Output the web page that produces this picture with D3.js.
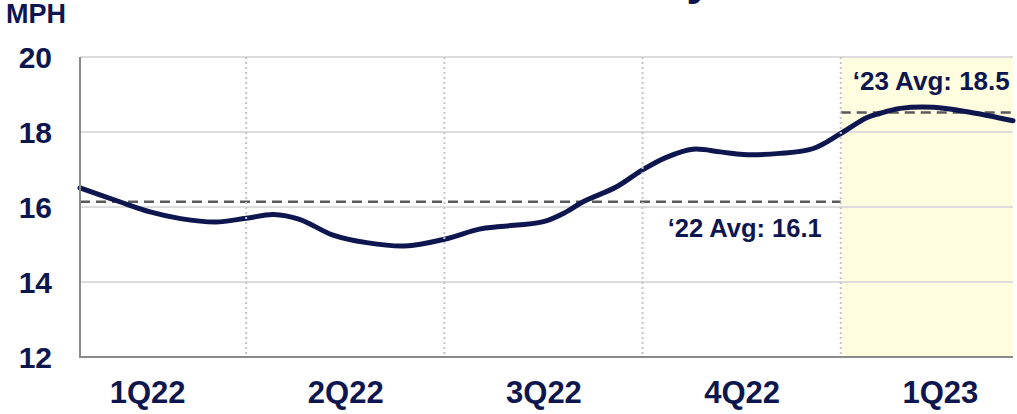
<!DOCTYPE html>
<html>
<head>
<meta charset="utf-8">
<script src="https://cdn.jsdelivr.net/npm/d3@7"></script>
<style>
  html, body { margin: 0; padding: 0; background: #ffffff; }
  svg { display: block; font-family: "Liberation Sans", Arial, sans-serif; font-weight: bold; }
</style>
</head>
<body>
<svg id="chart" width="1017" height="414"></svg>
<script>
// ---- data (weeks since start of 2022, MPH) ----
const weeks  = [2.1, 4.7, 6.7, 8.7, 11.0, 13.0, 14.8, 16.5, 18.7, 20.9, 23.4, 26.0, 28.3, 29.7, 32.5, 34.0, 35.1, 37.3, 39.0, 40.6, 42.3, 44.1, 45.6, 48.0, 50.2, 52.0, 53.7, 54.6, 55.9, 58.1, 60.3, 63.3];
const speeds = [16.51, 16.14, 15.87, 15.69, 15.60, 15.70, 15.80, 15.67, 15.25, 15.05, 14.96, 15.14, 15.41, 15.48, 15.61, 15.87, 16.14, 16.54, 16.99, 17.33, 17.54, 17.47, 17.40, 17.43, 17.56, 17.96, 18.38, 18.50, 18.63, 18.66, 18.54, 18.30];
const quarterLabels = ["1Q22", "2Q22", "3Q22", "4Q22", "1Q23"];
const quarterMids   = [6.5, 19.5, 32.5, 45.5, 58.5];
const quarterBounds = [13, 26, 39, 52];
const yTicks = [12, 14, 16, 18, 20];
const avgLabels = ["\u201822 Avg: ", "\u201823 Avg: "];
const avgValues = [16.14, 18.52];
const avgSpans  = [[2.1, 52], [52, 63.3]];
const yAxisTitle = "MPH";
const titleText = "Network Velocity";

// ---- layout ----
const navy = "#0e1650";
const svg = d3.select("#chart");
const x = d3.scaleLinear().domain([2.1, 63.3]).range([80, 1013]);
const y = d3.scaleLinear().domain([12, 20]).range([357, 57]);

// partial title (cut off at top, as in the reference)
svg.append("text").attr("x", 713).attr("y", -6).attr("text-anchor", "end")
  .attr("font-size", 48).attr("fill", navy).text(titleText);

// highlighted 2023 area
svg.append("rect")
  .attr("x", x(52) + 1).attr("y", y(20))
  .attr("width", x(63.3) - x(52) - 1).attr("height", y(12) - y(20))
  .attr("fill", "#fffde0");

// horizontal gridlines
svg.append("g").selectAll("line").data(yTicks.filter(d => d > 12)).join("line")
  .attr("x1", x(2.1)).attr("x2", x(63.3))
  .attr("y1", d => y(d)).attr("y2", d => y(d))
  .attr("stroke", "#dcdcdc").attr("stroke-width", 2);

// average lines
svg.append("g").selectAll("line").data(avgValues).join("line")
  .attr("x1", (d, i) => x(avgSpans[i][0])).attr("x2", (d, i) => x(avgSpans[i][1]))
  .attr("y1", d => y(d)).attr("y2", d => y(d))
  .attr("stroke", "#5a5a5a").attr("stroke-width", 2.5).attr("stroke-dasharray", "10,6");

// main line
const line = d3.line().x((d, i) => x(weeks[i])).y(d => y(d)).curve(d3.curveCatmullRom.alpha(0.5));
svg.append("path").datum(speeds)
  .attr("d", line).attr("fill", "none")
  .attr("stroke", navy).attr("stroke-width", 5).attr("stroke-linecap", "round");

// vertical dotted quarter separators
svg.append("g").selectAll("line").data(quarterBounds).join("line")
  .attr("x1", d => x(d)).attr("x2", d => x(d))
  .attr("y1", y(20)).attr("y2", y(12))
  .attr("stroke", "#c4c4c4").attr("stroke-width", 2).attr("stroke-dasharray", "2,3");

// axes lines
svg.append("line").attr("x1", x(2.1)).attr("x2", x(2.1)).attr("y1", y(20)).attr("y2", y(12))
  .attr("stroke", "#8a8a8a").attr("stroke-width", 2);
svg.append("line").attr("x1", x(2.1) - 1).attr("x2", x(63.3)).attr("y1", y(12)).attr("y2", y(12))
  .attr("stroke", "#8a8a8a").attr("stroke-width", 2);

// y axis
const yAxis = svg.append("g").attr("transform", `translate(${x(2.1)},0)`)
  .call(d3.axisLeft(y).tickValues(yTicks).tickSize(0).tickPadding(28));
yAxis.select(".domain").remove();
yAxis.selectAll("text").attr("font-size", 30).attr("fill", navy)
  .attr("font-family", "Liberation Sans, Arial, sans-serif").attr("font-weight", "bold").attr("dy", "0.36em");

// x axis
const xAxis = svg.append("g").attr("transform", `translate(0,${y(12)})`)
  .call(d3.axisBottom(x).tickValues(quarterMids).tickFormat((d, i) => quarterLabels[i]).tickSize(0));
xAxis.select(".domain").remove();
xAxis.selectAll("text").attr("font-size", 31).attr("fill", navy)
  .attr("font-family", "Liberation Sans, Arial, sans-serif").attr("font-weight", "bold")
  .attr("y", 46).attr("dy", 0);

// mph label
svg.append("text").attr("x", 6).attr("y", 23).attr("font-size", 27).attr("fill", navy).text(yAxisTitle);

// avg labels
svg.append("text").attr("x", x(52) - 19).attr("y", y(avgValues[0]) + 35)
  .attr("text-anchor", "end").attr("font-size", 25.5).attr("fill", navy)
  .text(avgLabels[0] + d3.format(".1f")(avgValues[0]));
svg.append("text").attr("x", x(52) + 12).attr("y", y(avgValues[1]) - 23)
  .attr("text-anchor", "start").attr("font-size", 26).attr("fill", navy)
  .text(avgLabels[1] + d3.format(".1f")(avgValues[1]));
</script>
</body>
</html>
